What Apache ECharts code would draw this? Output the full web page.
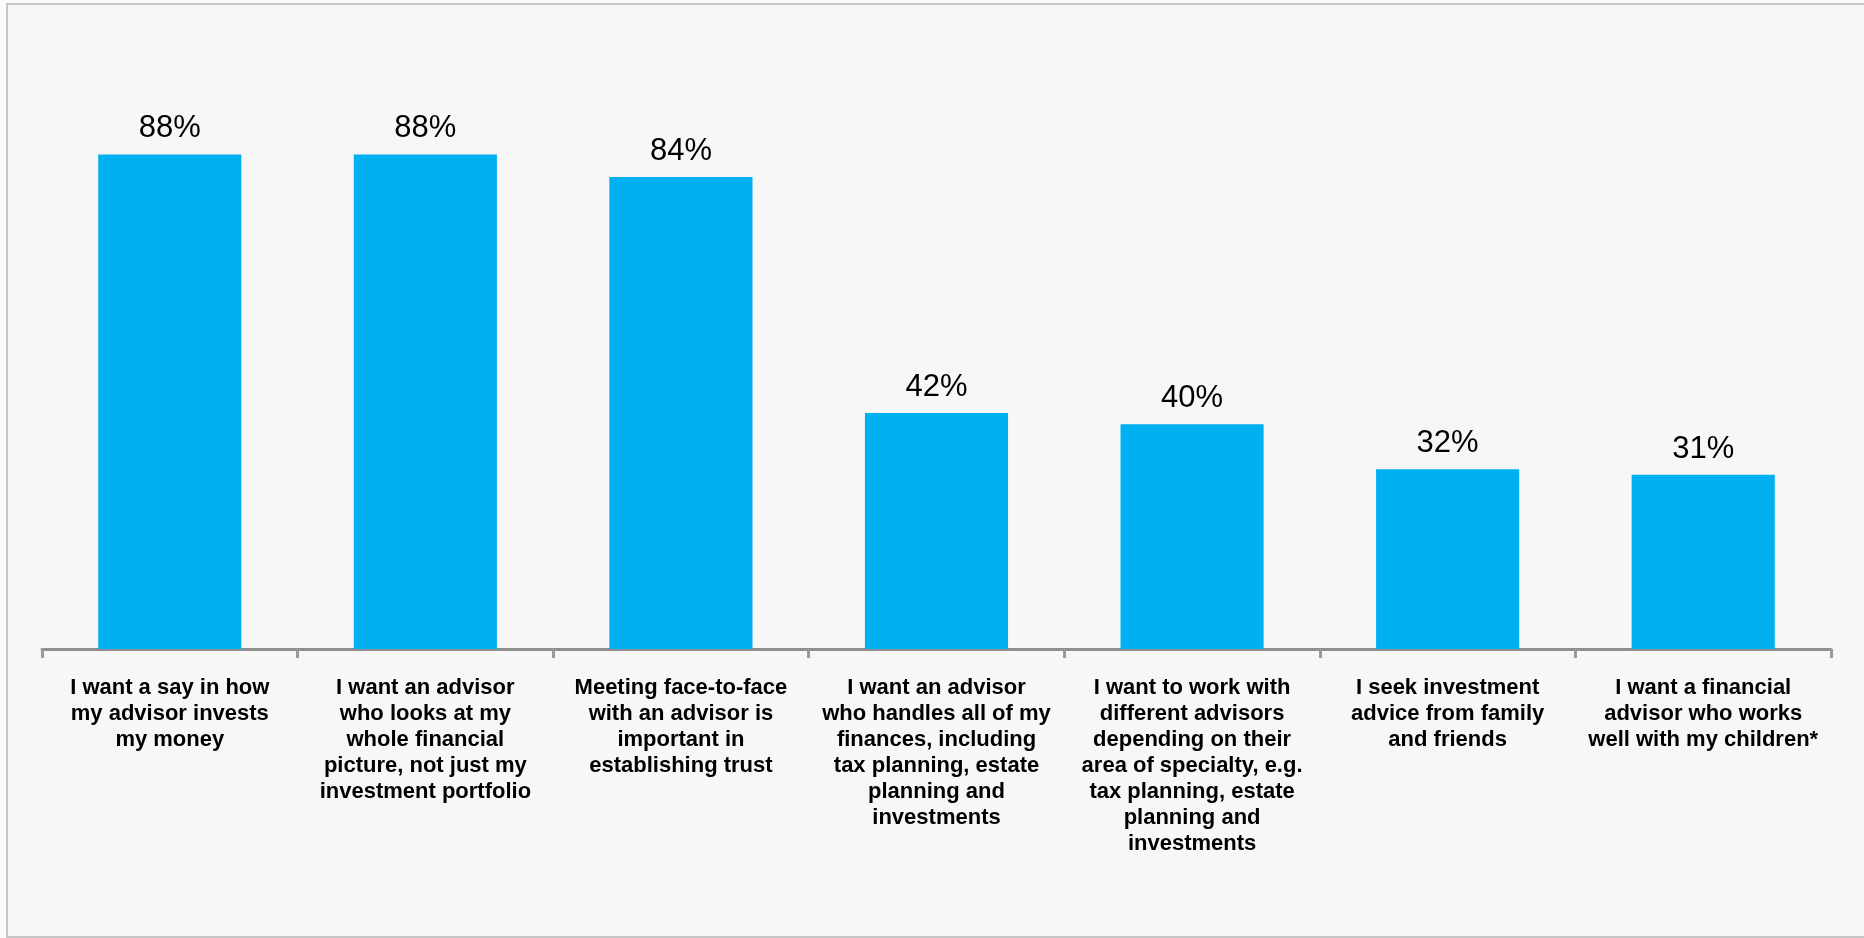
<!DOCTYPE html>
<html>
<head>
<meta charset="utf-8">
<title>Advisor preferences</title>
<script src="https://cdn.jsdelivr.net/npm/echarts@6/dist/echarts.min.js"></script>
<style>
  html, body { margin: 0; padding: 0; background: #fbfbfd; }
  #chart { width: 1864px; height: 938px; }
</style>
</head>
<body>
<div id="chart"></div>
<script>
// Statements shown along the category axis (line breaks as laid out)
const categories = [
  'I want a say in how\nmy advisor invests\nmy money',
  'I want an advisor\nwho looks at my\nwhole financial\npicture, not just my\ninvestment portfolio',
  'Meeting face-to-face\nwith an advisor is\nimportant in\nestablishing trust',
  'I want an advisor\nwho handles all of my\nfinances, including\ntax planning, estate\nplanning and\ninvestments',
  'I want to work with\ndifferent advisors\ndepending on their\narea of specialty, e.g.\ntax planning, estate\nplanning and\ninvestments',
  'I seek investment\nadvice from family\nand friends',
  'I want a financial\nadvisor who works\nwell with my children*'
];

// Share of respondents agreeing, in percent
const agreePct = [88, 88, 84, 42, 40, 32, 31];

const chart = echarts.init(document.getElementById('chart'), null, { renderer: 'canvas' });

chart.setOption({
  backgroundColor: 'transparent',
  animation: false,
  graphic: [{
    type: 'rect',
    z: -10,
    silent: true,
    shape: { x: 7, y: 4, width: 1880, height: 933 },
    style: { fill: '#f7f7f7', stroke: '#c6c6c6', lineWidth: 2 }
  }],
  grid: { left: 42, right: 33, top: 87, bottom: 289, containLabel: false },
  xAxis: {
    type: 'category',
    data: categories,
    boundaryGap: true,
    axisLine: { show: true, lineStyle: { color: '#8f8f8f', width: 3 } },
    axisTick: { show: true, length: 9, lineStyle: { color: '#9a9a9a', width: 3 } },
    axisLabel: {
      interval: 0,
      margin: 26,
      color: '#000',
      fontFamily: 'Liberation Sans, Arial, sans-serif',
      fontWeight: 'bold',
      fontSize: 22,
      lineHeight: 26,
      align: 'center'
    }
  },
  yAxis: {
    type: 'value',
    min: 0,
    max: 100,
    show: false,
    splitLine: { show: false }
  },
  series: [{
    type: 'bar',
    data: agreePct,
    barWidth: '56%',
    itemStyle: { color: '#00b0f0' },
    label: {
      show: true,
      position: 'top',
      distance: 10,
      formatter: p => p.value + '%',
      color: '#000',
      fontFamily: 'Liberation Sans, Arial, sans-serif',
      fontSize: 31
    }
  }]
});
</script>
</body>
</html>
